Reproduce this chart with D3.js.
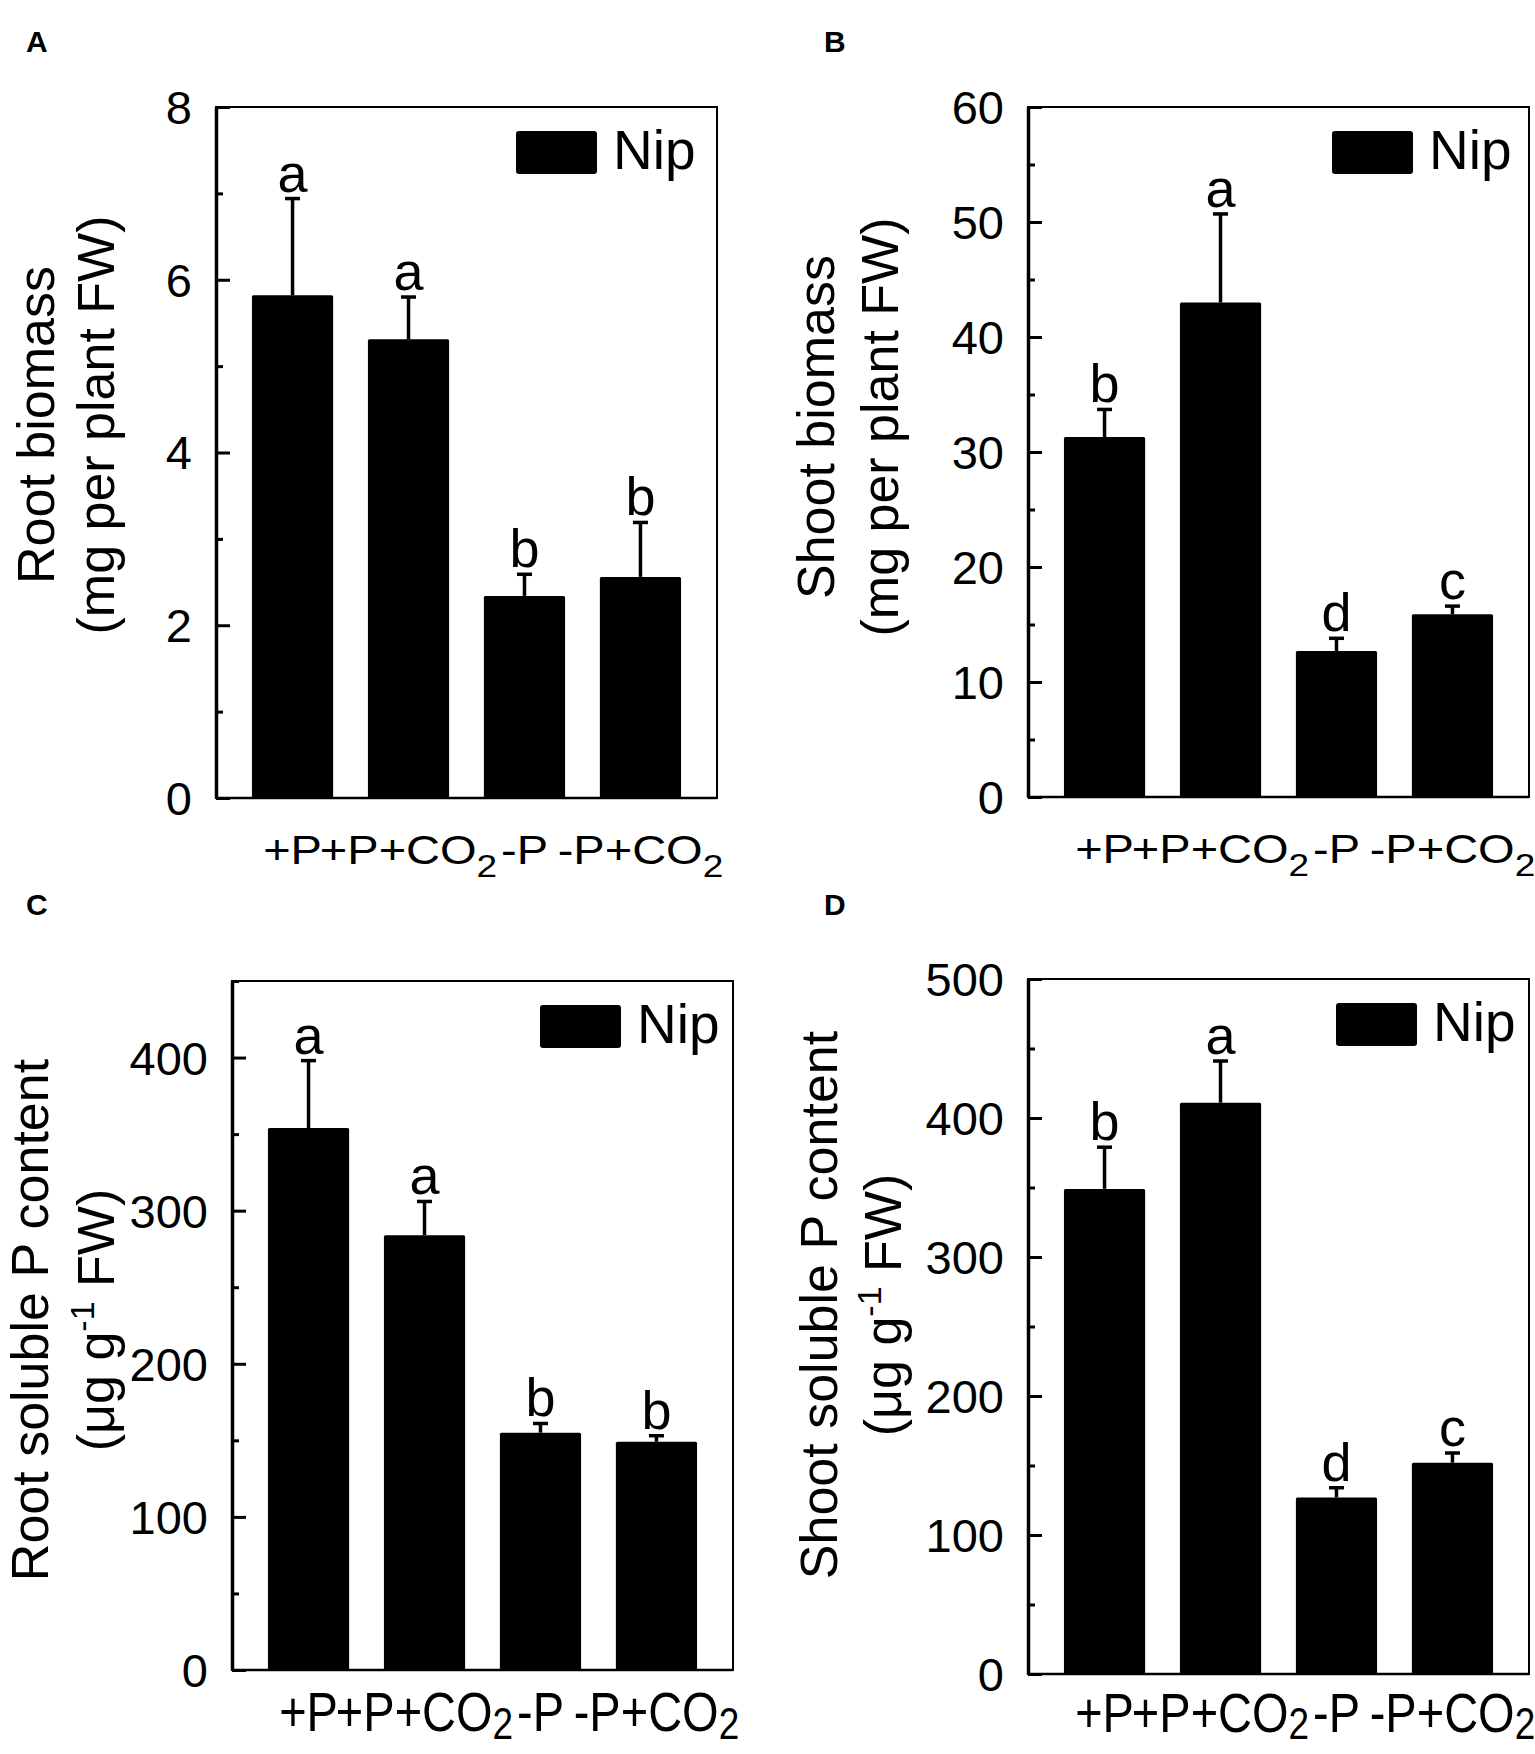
<!DOCTYPE html>
<html>
<head>
<meta charset="utf-8">
<script src="https://cdn.jsdelivr.net/npm/d3@7"></script>
<style>
  body { margin: 0; background: #fff; }
  svg { display: block; font-family: Arial, 'Liberation Sans', sans-serif; }
</style>
</head>
<body>
<div class="figure"></div>
<script>
// Data
const treatments = ['+P', '+P+CO2', '-P', '-P+CO2'];

const rootBiomass = [5.82, 5.31, 2.34, 2.56];
const rootBiomassErr = [1.12, 0.49, 0.25, 0.63];
const rootBiomassSig = ['a', 'a', 'b', 'b'];
const rootBiomassTicks = [0, 2, 4, 6, 8];
const rootBiomassMinor = [1, 3, 5, 7];

const shootBiomass = [31.3, 43.0, 12.7, 15.9];
const shootBiomassErr = [2.4, 7.7, 1.1, 0.7];
const shootBiomassSig = ['b', 'a', 'd', 'c'];
const shootBiomassTicks = [0, 10, 20, 30, 40, 50, 60];
const shootBiomassMinor = [5, 15, 25, 35, 45, 55];

const rootP = [354, 284, 155, 149];
const rootPErr = [44, 22, 6, 4];
const rootPSig = ['a', 'a', 'b', 'b'];
const rootPTicks = [0, 100, 200, 300, 400];
const rootPMinor = [50, 150, 250, 350, 450];

const shootP = [349, 411, 127, 152];
const shootPErr = [30, 30, 7, 7];
const shootPSig = ['b', 'a', 'd', 'c'];
const shootPTicks = [0, 100, 200, 300, 400, 500];
const shootPMinor = [50, 150, 250, 350, 450];

const legendLabel = 'Nip';

// Base
const svg = d3.select('.figure')
    .append('svg')
    .attr('width', 1535)
    .attr('height', 1754);

function drawPanel(p) {
    const width = 501;
    const height = p.bottom - p.top;

    const xScale = d3.scaleBand()
        .domain(treatments)
        .range([0, width])
        .paddingInner(0.3)
        .paddingOuter(0.31);

    const yScale = d3.scaleLinear()
        .domain([0, p.yMax])
        .range([height, 0]);

    const g = svg.append('g')
        .attr('transform', 'translate(' + p.left + ',' + p.top + ')');

    // panel letter
    svg.append('text')
        .attr('x', p.letterX)
        .attr('y', p.letterY)
        .style('font-size', '30px')
        .style('font-weight', 'bold')
        .text(p.id);

    // frame (top and right thinner)
    g.append('rect')
        .attr('width', width)
        .attr('height', height)
        .attr('fill', 'none')
        .attr('stroke', '#000')
        .attr('stroke-width', 2);

    // minor ticks
    const minorAxis = d3.axisLeft(yScale)
        .tickValues(p.minor)
        .tickFormat('')
        .tickSizeInner(-7)
        .tickSizeOuter(0);
    const minorDraw = g.append('g').attr('class', 'y minor');
    minorAxis(minorDraw);
    minorDraw.select('.domain').remove();
    minorDraw.selectAll('line').attr('stroke-width', 3);

    // major ticks
    const yAxis = d3.axisLeft(yScale)
        .tickValues(p.ticks)
        .tickSizeInner(-14)
        .tickSizeOuter(0)
        .tickPadding(24);
    const yAxisDraw = g.append('g').attr('class', 'y axis');
    yAxis(yAxisDraw);
    yAxisDraw.select('.domain').attr('stroke-width', 3.5);
    yAxisDraw.selectAll('line').attr('stroke-width', 3);
    yAxisDraw.selectAll('text')
        .attr('font-family', null)
        .attr('font-size', null)
        .style('font-size', '47px')
        .attr('dy', '0.35em');

    // bottom axis line
    g.append('line')
        .attr('x1', 0).attr('x2', width)
        .attr('y1', height).attr('y2', height)
        .attr('stroke', '#000')
        .attr('stroke-width', 2.5);

    // bars
    const rows = treatments.map((t, i) => ({
        t: t, v: p.values[i], e: p.errors[i], s: p.sig[i]
    }));

    g.selectAll('.bar')
        .data(rows)
        .enter()
        .append('rect')
        .attr('class', 'bar')
        .attr('x', d => xScale(d.t))
        .attr('y', d => yScale(d.v))
        .attr('width', xScale.bandwidth())
        .attr('height', d => height - yScale(d.v))
        .attr('rx', 1.5)
        .style('fill', '#000');

    // error bars (upper only)
    const cx = d => xScale(d.t) + xScale.bandwidth() / 2;
    g.selectAll('.err')
        .data(rows)
        .enter()
        .append('line')
        .attr('class', 'err')
        .attr('x1', cx).attr('x2', cx)
        .attr('y1', d => yScale(d.v))
        .attr('y2', d => yScale(d.v + d.e))
        .attr('stroke', '#000')
        .attr('stroke-width', 3.5);

    g.selectAll('.cap')
        .data(rows)
        .enter()
        .append('line')
        .attr('class', 'cap')
        .attr('x1', d => cx(d) - 7.5).attr('x2', d => cx(d) + 7.5)
        .attr('y1', d => yScale(d.v + d.e))
        .attr('y2', d => yScale(d.v + d.e))
        .attr('stroke', '#000')
        .attr('stroke-width', 3.5);

    // significance letters
    g.selectAll('.sig')
        .data(rows)
        .enter()
        .append('text')
        .attr('class', 'sig')
        .attr('x', cx)
        .attr('y', d => yScale(d.v + d.e) - 7)
        .attr('text-anchor', 'middle')
        .style('font-size', '54px')
        .text(d => d.s);

    // x labels with subscript 2
    const xl = g.selectAll('.xlab')
        .data(rows)
        .enter()
        .append('text')
        .attr('class', 'xlab')
        .attr('text-anchor', 'middle')
        .attr('transform', d => 'translate(' + cx(d) + ',' + (height + p.labelOffset) + ') scale(1,' + p.labelScale + ')')
        .style('font-size', '47px');
    xl.append('tspan')
        .text(d => d.t.endsWith('CO2') ? d.t.slice(0, -1) : d.t);
    xl.filter(d => d.t.endsWith('CO2'))
        .append('tspan')
        .attr('dy', p.subDy)
        .style('font-size', '37px')
        .text('2');

    // legend
    g.append('rect')
        .attr('x', width - p.legendRect - 81)
        .attr('y', 24)
        .attr('width', 81)
        .attr('height', 43)
        .attr('rx', 3)
        .style('fill', '#000');
    g.append('text')
        .attr('x', width - p.legendText)
        .attr('y', 62)
        .style('font-size', '55px')
        .text(legendLabel);

    // y title, two lines
    const t = svg.append('g')
        .attr('transform', 'translate(' + p.left + ',' + p.titleY + ') rotate(-90)');
    t.append('text')
        .attr('x', 0)
        .attr('y', -p.title1)
        .attr('text-anchor', 'middle')
        .style('font-size', '52px')
        .text(p.title[0]);
    const t2 = t.append('text')
        .attr('x', 0)
        .attr('y', -p.title2)
        .attr('text-anchor', 'middle')
        .style('font-size', '52px');
    if (p.title[1].includes('^')) {
        const parts = p.title[1].split('^');
        t2.append('tspan').text(parts[0]);
        t2.append('tspan').attr('dy', -20).style('font-size', '34px').text('-1');
        t2.append('tspan').attr('dy', 20).text(parts[1]);
    } else {
        t2.text(p.title[1]);
    }
}

drawPanel({
    id: 'A', letterX: 26, letterY: 52,
    left: 216, top: 107, bottom: 798, yMax: 8,
    values: rootBiomass, errors: rootBiomassErr, sig: rootBiomassSig,
    ticks: rootBiomassTicks, minor: rootBiomassMinor,
    labelScale: 0.87, labelOffset: 66, subDy: 15, legendRect: 120, legendText: 104,
    title: ['Root biomass', '(mg per plant FW)'], titleY: 425, title1: 162, title2: 102
});

drawPanel({
    id: 'B', letterX: 824, letterY: 52,
    left: 1028, top: 107, bottom: 797, yMax: 60,
    values: shootBiomass, errors: shootBiomassErr, sig: shootBiomassSig,
    ticks: shootBiomassTicks, minor: shootBiomassMinor,
    labelScale: 0.87, labelOffset: 66, subDy: 15, legendRect: 116, legendText: 100,
    title: ['Shoot biomass', '(mg per plant FW)'], titleY: 427, title1: 194, title2: 130
});

drawPanel({
    id: 'C', letterX: 26, letterY: 915,
    left: 232, top: 981, bottom: 1670, yMax: 450,
    values: rootP, errors: rootPErr, sig: rootPSig,
    ticks: rootPTicks, minor: rootPMinor,
    labelScale: 1.2, labelOffset: 61, subDy: 7, legendRect: 112, legendText: 96,
    title: ['Root soluble P content', '(μg g^ FW)'], titleY: 1320, title1: 184, title2: 118
});

drawPanel({
    id: 'D', letterX: 824, letterY: 915,
    left: 1028, top: 979, bottom: 1674, yMax: 500,
    values: shootP, errors: shootPErr, sig: shootPSig,
    ticks: shootPTicks, minor: shootPMinor,
    labelScale: 1.2, labelOffset: 58, subDy: 6, legendRect: 112, legendText: 96,
    title: ['Shoot soluble P content', '(μg g^ FW)'], titleY: 1305, title1: 191, title2: 127
});
</script>
</body>
</html>
